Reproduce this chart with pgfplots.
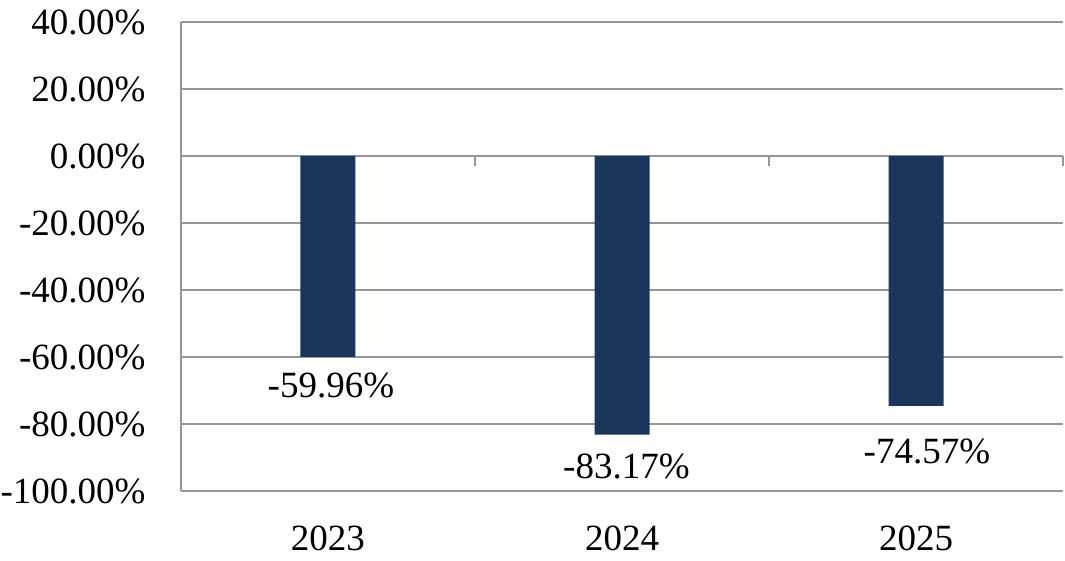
\documentclass[border=0pt]{standalone}
\usepackage{fontspec}
\setmainfont{Liberation Serif}
\usepackage{pgfplots}
\pgfplotsset{compat=1.18}
\definecolor{barblue}{RGB}{26,54,93}
\definecolor{gridgray}{RGB}{150,150,150}
\begin{document}
\fontsize{37bp}{44bp}\selectfont
\begin{tikzpicture}
\begin{axis}[
  scale only axis, width=882bp, height=469bp,
  xmin=-0.5, xmax=2.5, ymin=-100, ymax=40,
  ytick={-100,-80,-60,-40,-20,0,20,40},
  yticklabels={-100.00\%,-80.00\%,-60.00\%,-40.00\%,-20.00\%,0.00\%,20.00\%,40.00\%},
  xtick={0,1,2}, xticklabels={2023,2024,2025},
  major tick length=0pt,
  ymajorgrids, grid style={gridgray, line width=2bp},
  axis lines*=left,
  axis line style={gridgray, line width=2bp},
  tick label style={font=\fontsize{37bp}{44bp}\selectfont, text=black},
  yticklabel style={xshift=-23bp},
  xticklabel style={yshift=-22bp},
  clip=false,
]
\addplot[ybar, bar width=55bp, bar shift=0pt, fill=barblue, draw=none]
  coordinates {(0,-59.96) (1,-83.17) (2,-74.57)};
\addplot[ycomb, gridgray, line width=2bp, mark=none]
  coordinates {(0.5,-3) (1.5,-3) (2.5,-3)};
\addplot[draw=none, mark=none, nodes near coords, point meta=explicit symbolic,
  nodes near coords style={anchor=center, text=black, font=\fontsize{37bp}{44bp}\selectfont}]
  coordinates {(0.01,-68.4)[-59.96\%] (1.015,-92.8)[-83.17\%] (2.037,-88.1)[-74.57\%]};
\end{axis}
\pgfresetboundingbox
\path ([xshift=-181bp,yshift=-70bp]current axis.south west) rectangle ([xshift=2bp,yshift=22bp]current axis.north east);
\end{tikzpicture}
\end{document}
